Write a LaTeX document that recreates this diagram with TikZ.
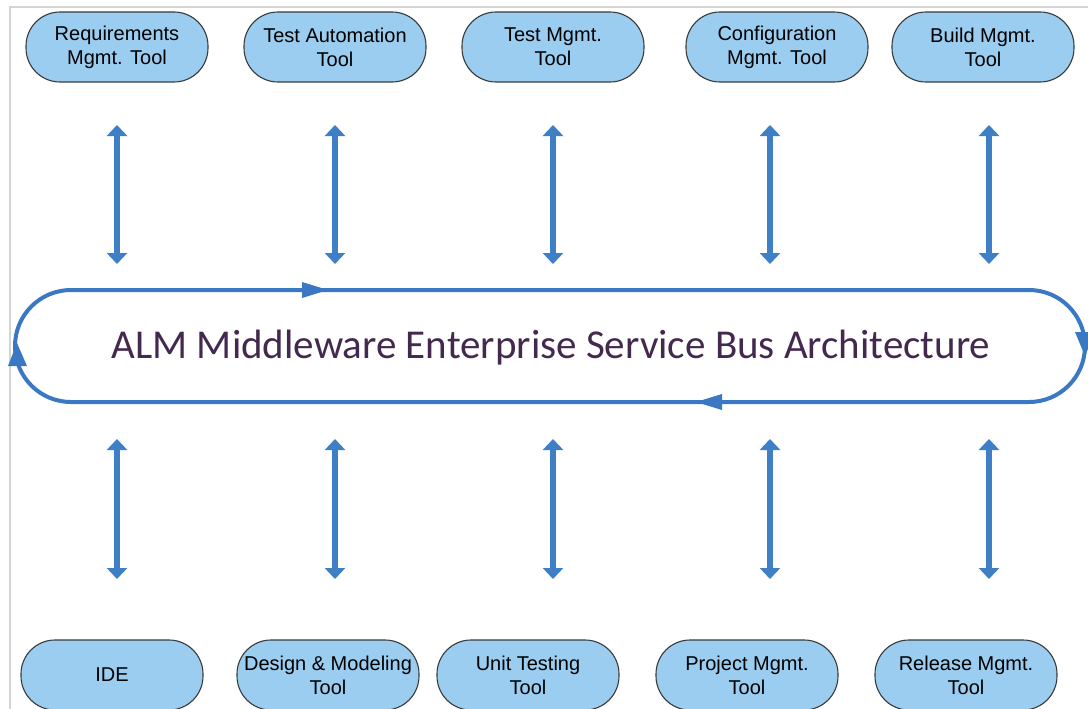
\documentclass[tikz,border=0pt]{standalone}
\usepackage{fontspec}
\setmainfont{Liberation Sans}
\newfontfamily\busfont{Carlito}
\usetikzlibrary{arrows.meta}
\definecolor{nodefill}{HTML}{9ACDF0}
\definecolor{nodeline}{HTML}{3A3A3A}
\definecolor{busblue}{HTML}{3B78C4}
\definecolor{arrowblue}{HTML}{3F7FC6}
\definecolor{bustext}{HTML}{44294F}
\definecolor{frame}{HTML}{D4D4D4}
\tikzset{
  x=1pt,y=-1pt,
  tool/.style={draw=nodeline, line width=1.1pt, fill=nodefill, rounded corners=34pt,
    minimum width=182pt, minimum height=70pt, align=center, inner sep=0pt,
    font=\fontsize{20}{24}\selectfont},
  link/.style={arrowblue, line width=5.5pt, {Triangle[width=20pt,length=11pt]}-{Triangle[width=20pt,length=11pt]}},
  bus/.style={busblue, line width=4pt},
  bushead/.style={fill=busblue},
}
\begin{document}
\begin{tikzpicture}
\useasboundingbox (0,0) rectangle (1088,709);
\fill[white] (0,0) rectangle (1088,709);
\draw[frame, line width=1.2pt] (10,709) -- (10,7) -- (1088,7);
% top nodes
\node[tool] (req) at (117,47) {Requirements\\Mgmt. Tool};
\node[tool] (tauto) at (335,47) {Test Automation\\Tool};
\node[tool] (tmgmt) at (553,47) {Test Mgmt.\\Tool};
\node[tool] (conf) at (777,47) {Configuration\\Mgmt. Tool};
\node[tool] (build) at (983,47) {Build Mgmt.\\Tool};
% bottom nodes
\node[tool] (ide) at (112,675) {IDE};
\node[tool] (design) at (328,675) {Design \& Modeling\\Tool};
\node[tool] (unit) at (528,675) {Unit Testing\\Tool};
\node[tool] (proj) at (747,675) {Project Mgmt.\\Tool};
\node[tool] (rel) at (966,675) {Release Mgmt.\\Tool};
% bus
\draw[bus, rounded corners=56pt] (15,290) rectangle (1085,402);
\node[font=\busfont\fontsize{41}{48}\selectfont, text=bustext] (busname) at (551,348) {ALM Middleware Enterprise Service Bus Architecture};
\fill[bushead] (302,282) -- (328,290) -- (302,298) -- cycle;
\fill[bushead] (722,394) -- (696,402) -- (722,410) -- cycle;
\fill[bushead] (8,366) -- (17,343) -- (27,366) -- cycle;
\fill[bushead] (1075,332) -- (1085,356) -- (1095,332) -- cycle;
% link coordinates
\foreach \n/\x in {a/117,b/335,c/553,d/770,e/989}{
  \coordinate (t\n1) at (\x,125);
  \coordinate (t\n2) at (\x,264);
  \coordinate (b\n1) at (\x,439);
  \coordinate (b\n2) at (\x,579);
}
\foreach \n in {a,b,c,d,e}{
  \draw[link] (t\n1) -- (t\n2);
  \draw[link] (b\n1) -- (b\n2);
}
\end{tikzpicture}
\end{document}
